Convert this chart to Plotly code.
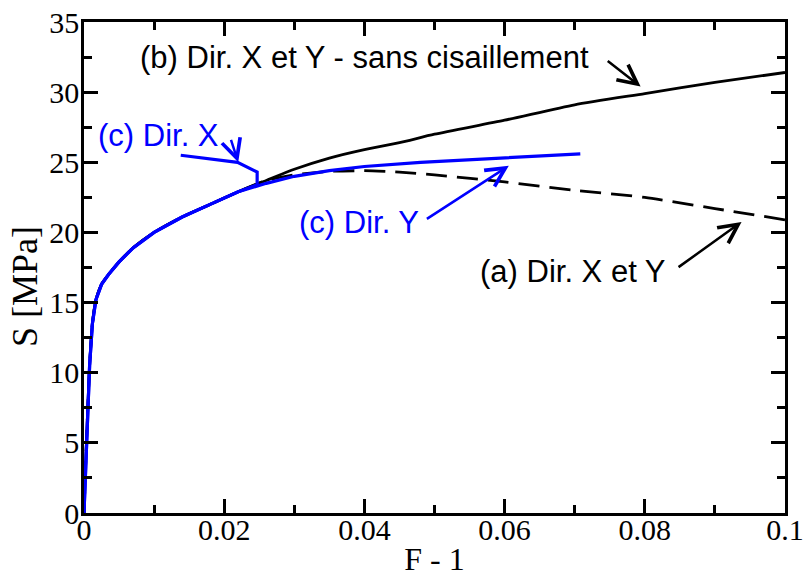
import plotly.graph_objects as go

# (b) Dir. X et Y - sans cisaillement (black solid)
xb = [0, 0.0002, 0.0005, 0.0008, 0.0012, 0.0017, 0.0025, 0.0035, 0.005, 0.007, 0.01,
      0.014, 0.018, 0.022, 0.026, 0.03, 0.035, 0.04, 0.045, 0.05, 0.06, 0.07, 0.08, 0.09, 0.1]
sb = [0, 3, 7, 10.5, 13.5, 15.2, 16.3, 17.0, 17.9, 18.9, 20.0,
      21.1, 22.0, 22.9, 23.7, 24.5, 25.3, 25.9, 26.4, 27.0, 28.0, 29.1, 29.9, 30.7, 31.4]

# (a) Dir. X et Y (black dashed)
xa = [0, 0.0002, 0.0005, 0.0008, 0.0012, 0.0017, 0.0025, 0.0035, 0.005, 0.007, 0.01,
      0.014, 0.018, 0.022, 0.026, 0.03, 0.035, 0.04, 0.045, 0.05, 0.06, 0.07, 0.08, 0.09, 0.1]
sa = [0, 3, 7, 10.5, 13.5, 15.2, 16.3, 17.0, 17.9, 18.9, 20.0,
      21.1, 22.0, 22.9, 23.7, 24.1, 24.35, 24.4, 24.3, 24.1, 23.6, 23.0, 22.5, 21.7, 20.9]

# (c) Dir. Y (blue)
xcy = [0, 0.0002, 0.0005, 0.0008, 0.0012, 0.0017, 0.0025, 0.0035, 0.005, 0.007, 0.01,
       0.014, 0.018, 0.022, 0.026, 0.03, 0.035, 0.04, 0.048, 0.0708]
scy = [0, 3, 7, 10.5, 13.5, 15.2, 16.3, 17.0, 17.9, 18.9, 20.0,
       21.1, 22.0, 22.9, 23.5, 24.0, 24.4, 24.7, 25.0, 25.6]

# (c) Dir. X (blue, snap-back)
xcx = [0, 0.0002, 0.0005, 0.0008, 0.0012, 0.0017, 0.0025, 0.0035, 0.005, 0.007, 0.01,
       0.014, 0.018, 0.022, 0.0247, 0.0247, 0.0219, 0.0138]
scx = [0, 3, 7, 10.5, 13.5, 15.2, 16.3, 17.0, 17.9, 18.9, 20.0,
       21.1, 22.0, 22.9, 23.4, 24.3, 25.0, 25.5]

x_ticks = [0, 0.02, 0.04, 0.06, 0.08, 0.1]
x_labels = ["0", "0.02", "0.04", "0.06", "0.08", "0.1"]
y_ticks = [0, 5, 10, 15, 20, 25, 30, 35]
y_labels = ["0", "5", "10", "15", "20", "25", "30", "35"]

BLUE = "#0000ff"
fig = go.Figure()
fig.add_trace(go.Scatter(x=xa, y=sa, mode="lines", line=dict(color="black", width=2.8, dash="21px,10px", shape="spline", smoothing=0.6)))
fig.add_trace(go.Scatter(x=xb, y=sb, mode="lines", line=dict(color="black", width=2.8, shape="spline", smoothing=0.6)))
fig.add_trace(go.Scatter(x=xcy, y=scy, mode="lines", line=dict(color=BLUE, width=3.2)))
fig.add_trace(go.Scatter(x=xcx, y=scx, mode="lines", line=dict(color=BLUE, width=3.2)))

TFONT = dict(family="Liberation Sans, Arial, sans-serif", size=31)

def label(x, y, text, color):
    fig.add_annotation(x=x, y=y, xref="x", yref="y", text=text, showarrow=False,
                       xanchor="left", yanchor="middle", font=dict(TFONT, color=color))

def arrow(x0, y0, x1, y1, color):
    fig.add_annotation(x=x1, y=y1, ax=x0, ay=y0, xref="x", yref="y", axref="x", ayref="y",
                       text="", showarrow=True, arrowhead=5, arrowsize=1.5, arrowwidth=2.5,
                       arrowcolor=color, standoff=0, startstandoff=0)

label(0.0077, 32.5, "(b) Dir. X et Y - sans cisaillement", "black")
arrow(0.0745, 32.3, 0.0794, 30.4, "black")
label(0.0017, 26.9, "(c) Dir. X", BLUE)
arrow(0.0209, 26.7, 0.0220, 25.0, BLUE)
label(0.0304, 20.7, "(c) Dir. Y", BLUE)
arrow(0.0487, 20.9, 0.0606, 24.75, BLUE)
label(0.0562, 17.25, "(a) Dir. X et Y", "black")
arrow(0.0846, 17.45, 0.0938, 20.75, "black")

SERIF = "Liberation Serif, Times New Roman, serif"

# y-axis title as rotated text (placed a bit below the axis middle, as in the reference)
fig.add_annotation(x=-0.0842, y=0.4623, xref="paper", yref="paper", text="S [MPa]", showarrow=False,
                   textangle=-90, xanchor="center", yanchor="middle",
                   font=dict(family=SERIF, size=36, color="black"))

fig.update_xaxes(range=[0, 0.1], tickvals=x_ticks, ticktext=x_labels, ticks="inside", ticklen=14,
                 tickwidth=2.5, tickcolor="black", showline=True, linewidth=2.5, linecolor="black",
                 mirror="allticks", showgrid=False, zeroline=False, automargin=False,
                 ticklabelstandoff=-12,
                 minor=dict(ticks="inside", ticklen=8, tickwidth=2.5, tickcolor="black", dtick=0.01, showgrid=False),
                 tickfont=dict(family=SERIF, size=30, color="black"),
                 title=dict(text="F - 1", font=dict(family=SERIF, size=32, color="black"), standoff=14))
fig.update_yaxes(range=[0, 35], tickvals=y_ticks, ticktext=y_labels, ticks="inside", ticklen=14,
                 tickwidth=2.5, tickcolor="black", showline=True, linewidth=2.5, linecolor="black",
                 mirror="allticks", showgrid=False, zeroline=False, automargin=False,
                 ticklabelstandoff=-4,
                 minor=dict(ticks="inside", ticklen=8, tickwidth=2.5, tickcolor="black", dtick=2.5, showgrid=False),
                 tickfont=dict(family=SERIF, size=30, color="black"))
fig.update_layout(width=806, height=577, margin=dict(l=84, r=21, t=22, b=64),
                  plot_bgcolor="white", paper_bgcolor="white", showlegend=False)
fig.write_html("out.html", config={"displayModeBar": False},
               post_script="document.body.style.margin='0px';document.body.style.overflow='hidden';")
